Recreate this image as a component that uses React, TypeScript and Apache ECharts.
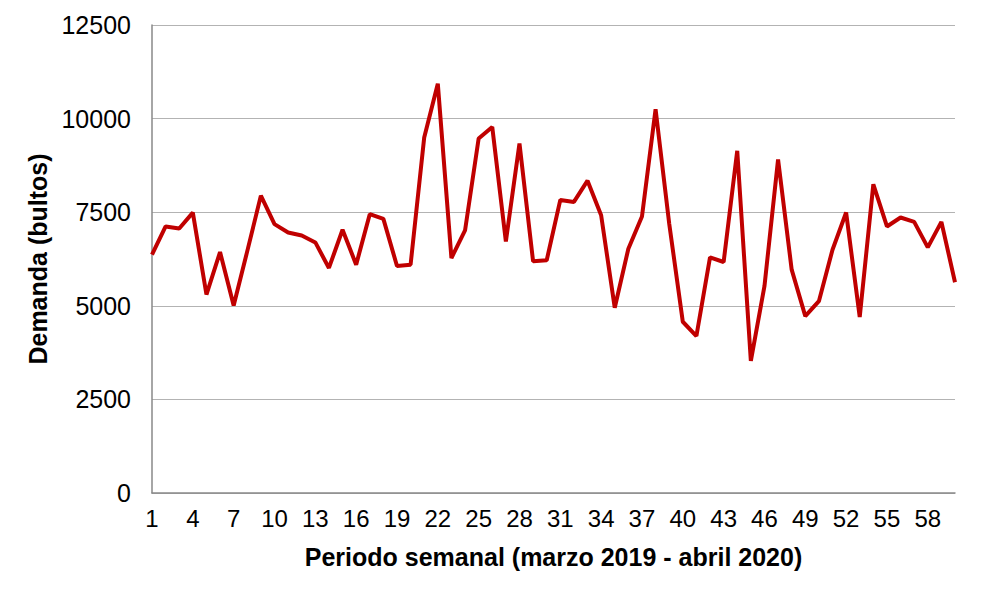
import React, { useEffect, useRef } from "react";
import * as echarts from "echarts";

const weeks: string[] = Array.from({ length: 60 }, (_, i) => String(i + 1));
const demand: number[] = [
  6365, 7119, 7066, 7490, 5301, 6436, 5009, 6460, 7943, 7181,
  6959, 6879, 6693, 6011, 7030, 6099, 7447, 7323, 6064, 6099,
  9495, 10931, 6277, 7012, 9468, 9778, 6720, 9335, 6188, 6215,
  7828, 7775, 8342, 7420, 4947, 6525, 7385, 10248, 7200, 4574,
  4193, 6294, 6170, 9140, 3528, 5523, 8909, 5966, 4725, 5124,
  6498, 7491, 4699, 8245, 7119, 7358, 7243, 6560, 7243, 5629,
];
const yTicks = { min: 0, max: 12500, interval: 2500 };

const FONT = "Liberation Sans, Arial, sans-serif";

export default function App() {
  const ref = useRef<HTMLDivElement>(null);
  useEffect(() => {
    if (!ref.current) return;
    const chart = echarts.init(ref.current, null, { renderer: "svg" });
    chart.setOption({
      animation: false,
      backgroundColor: "#ffffff",
      grid: { left: 152, right: 37, top: 25, bottom: 105, containLabel: false },
      xAxis: {
        type: "category",
        data: weeks,
        boundaryGap: false,
        name: "Periodo semanal (marzo 2019 - abril 2020)",
        nameLocation: "middle",
        nameGap: 51,
        nameTextStyle: { fontFamily: FONT, fontSize: 25, fontWeight: "bold", color: "#000" },
        axisLine: { lineStyle: { color: "#898989", width: 1.5 } },
        axisTick: { show: false },
        axisLabel: { interval: 2, fontFamily: FONT, fontSize: 24, color: "#000", margin: 13 },
        splitLine: { show: false },
      },
      yAxis: {
        type: "value",
        min: yTicks.min,
        max: yTicks.max,
        interval: yTicks.interval,
        name: "Demanda (bultos)",
        nameLocation: "middle",
        nameGap: 99,
        nameRotate: 90,
        nameTextStyle: { fontFamily: FONT, fontSize: 25, fontWeight: "bold", color: "#000" },
        axisLine: { show: true, lineStyle: { color: "#898989", width: 1.5 } },
        axisTick: { show: false },
        axisLabel: {
          fontFamily: FONT,
          fontSize: 25,
          color: "#000",
          margin: 21,
          formatter: (v: number) => String(v),
        },
        splitLine: { lineStyle: { color: "#b3b3b3", width: 1 } },
      },
      series: [
        {
          type: "line",
          data: demand,
          symbol: "none",
          lineStyle: { color: "#c00000", width: 4 },
          itemStyle: { color: "#c00000" },
        },
      ],
    });
    return () => chart.dispose();
  }, []);
  return <div ref={ref} style={{ width: 992, height: 598, position: "absolute", left: 0, top: 0 }} />;
}
